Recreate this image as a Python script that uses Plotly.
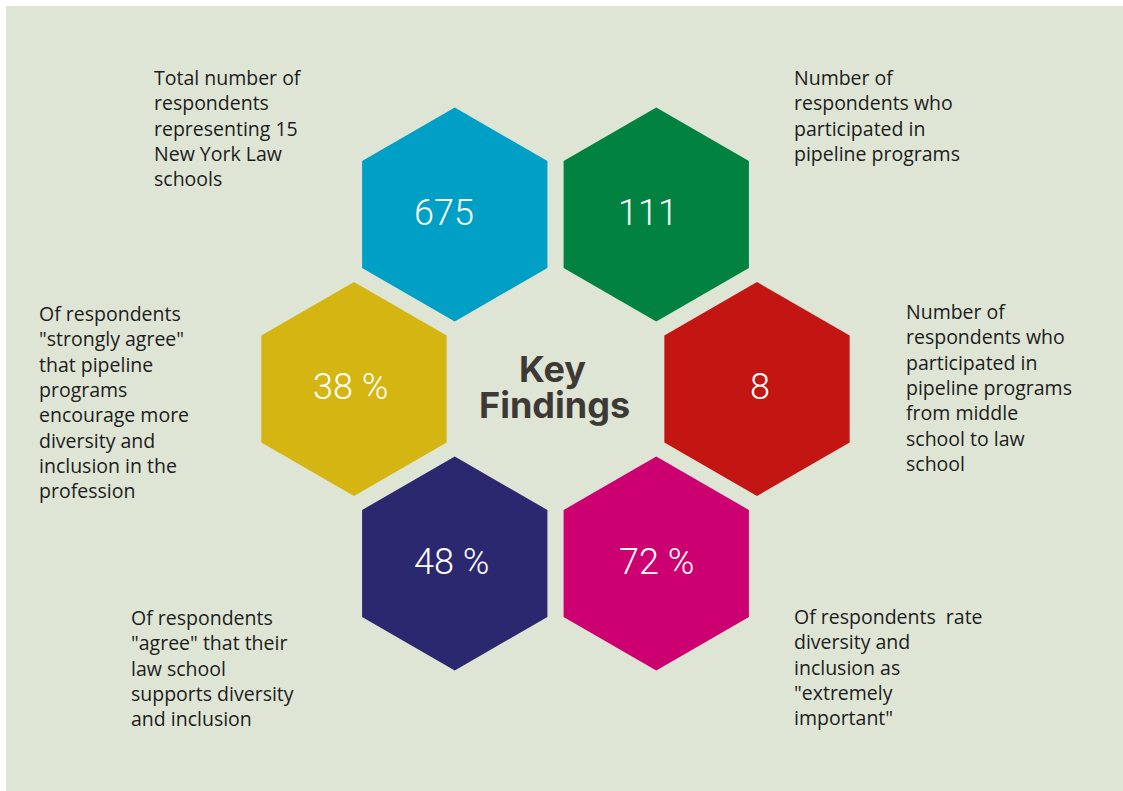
import math
import plotly.graph_objects as go

# ---- data ----
values = ["675", "111", "8", "72 %", "48 %", "38 %"]
descriptions = [
    "Total number of<br>respondents<br>representing 15<br>New York Law<br>schools",
    "Number of<br>respondents who<br>participated in<br>pipeline programs",
    "Number of<br>respondents who<br>participated in<br>pipeline programs<br>from middle<br>school to law<br>school",
    "Of respondents  rate<br>diversity and<br>inclusion as<br>\"extremely<br>important\"",
    "Of respondents<br>\"agree\" that their<br>law school<br>supports diversity<br>and inclusion",
    "Of respondents<br>\"strongly agree\"<br>that pipeline<br>programs<br>encourage more<br>diversity and<br>inclusion in the<br>profession",
]
title_lines = ["Key", "Findings"]

# ---- layout / style ----
W, H = 1123, 791
BG = "#dfe5d5"
colors = ["#00a0c6", "#028241", "#c31612", "#cc0070", "#2b2870", "#d4b512"]
angles = [120, 60, 0, -60, -120, 180]        # honeycomb position around centre
CX, CY = 555.5, 389.0
SPACING = 201.5
R = 107.0
value_dx = [-11, -8, 3, 0, -3, -4]
desc_pos = [(152, 62), (792, 62), (904, 296), (792, 601), (129, 602), (37, 298)]

fig = go.Figure()

centres = []
for i, ang in enumerate(angles):
    a = math.radians(ang)
    cx = CX + SPACING * math.cos(a)
    cy = CY - SPACING * math.sin(a)
    centres.append((cx, cy))
    xs, ys = [], []
    for k in range(7):
        t = math.radians(90 + 60 * k)
        xs.append(cx + R * math.cos(t))
        ys.append(cy - R * math.sin(t))
    fig.add_trace(go.Scatter(x=xs, y=ys, mode="lines", fill="toself",
                             fillcolor=colors[i], line=dict(width=0, color=colors[i]),
                             hoverinfo="skip", showlegend=False))

for i, (cx, cy) in enumerate(centres):
    fig.add_annotation(x=cx + value_dx[i], y=cy - 2, text=values[i], showarrow=False,
                       xanchor="center", yanchor="middle",
                       font=dict(family="Roboto", size=36, color="white", weight=300))
    dx, dy = desc_pos[i]
    fig.add_annotation(x=dx, y=dy, text=descriptions[i], showarrow=False,
                       xanchor="left", yanchor="top", align="left",
                       font=dict(family="Open Sans", size=19.5, color="#1c1c1c"))

fig.add_annotation(x=552, y=369, text=title_lines[0], showarrow=False,
                   xanchor="center", yanchor="middle",
                   font=dict(family="Inter", size=36, color="#3d3935", weight=700))
fig.add_annotation(x=554, y=405, text=title_lines[1], showarrow=False,
                   xanchor="center", yanchor="middle",
                   font=dict(family="Inter", size=36, color="#3d3935", weight=700))

fig.add_shape(type="rect", x0=6, y0=6, x1=W, y1=H, fillcolor=BG,
              line=dict(width=0), layer="below")

fig.update_layout(width=W, height=H, margin=dict(l=0, r=0, t=0, b=0),
                  paper_bgcolor="white", plot_bgcolor="rgba(0,0,0,0)",
                  xaxis=dict(range=[0, W], visible=False, fixedrange=True),
                  yaxis=dict(range=[H, 0], visible=False, fixedrange=True))
fig.write_html("out.html", config={"displayModeBar": False},
               post_script="document.body.style.margin='0';document.body.style.overflow='hidden';")
